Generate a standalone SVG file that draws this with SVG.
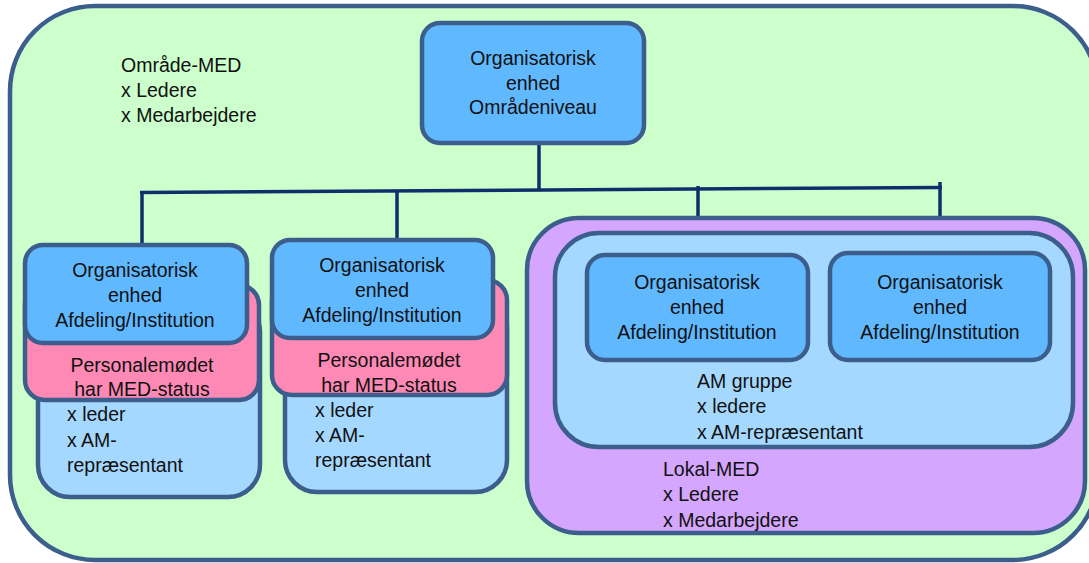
<svg xmlns="http://www.w3.org/2000/svg" width="1089" height="563" viewBox="0 0 1089 563">
<style>
  .box{stroke:#3c5e8c;stroke-width:4.5}
  .green{fill:#ccffcc}
  .blue{fill:#60b9ff}
  .pink{fill:#ff89b5}
  .light{fill:#a5d8ff}
  .purple{fill:#d4a6fd}
  text{font-family:"Liberation Sans",Arial,sans-serif;font-size:19.5px;fill:#111}
  .c{text-anchor:middle}
  .conn{stroke:#0f2f6b;stroke-width:3.5;fill:none;stroke-linecap:butt}
</style>
<rect id="omraade-bg" class="box green" x="10" y="6" width="1088" height="554" rx="85" ry="85"/>
<g id="omraade-label">
  <text x="121" y="72">Område-MED</text>
  <text x="121" y="97">x Ledere</text>
  <text x="121" y="122">x Medarbejdere</text>
</g>
<g id="connectors">
  <path class="conn" d="M539,144 V190"/>
  <path class="conn" d="M140,192.5 L942,187.5"/>
  <path class="conn" d="M142,192 V245"/>
  <path class="conn" d="M397,191 V240"/>
  <path class="conn" d="M698,186 V255"/>
  <path class="conn" d="M940,182 V253"/>
</g>
<g id="top-node">
  <rect class="box blue" x="422" y="23" width="222" height="120" rx="18"/>
  <text class="c" x="533" y="65">Organisatorisk</text>
  <text class="c" x="533" y="90">enhed</text>
  <text class="c" x="533" y="114">Områdeniveau</text>
</g>
<g id="node-left-1">
  <rect class="box light" x="38" y="300" width="222" height="197" rx="32"/>
  <rect class="box pink" x="25" y="285" width="234" height="115" rx="20"/>
  <rect class="box blue" x="25" y="245" width="222" height="98" rx="18"/>
  <text class="c" x="135" y="277">Organisatorisk</text>
  <text class="c" x="135" y="302">enhed</text>
  <text class="c" x="135" y="327">Afdeling/Institution</text>
  <text class="c" x="142" y="372">Personalemødet</text>
  <text class="c" x="142" y="396">har MED-status</text>
  <text x="67" y="421">x leder</text>
  <text x="67" y="447">x AM-</text>
  <text x="67" y="472">repræsentant</text>
</g>
<g id="node-left-2">
  <rect class="box light" x="285" y="295" width="222" height="197" rx="32"/>
  <rect class="box pink" x="272" y="280" width="235" height="115" rx="20"/>
  <rect class="box blue" x="272" y="240" width="221" height="98" rx="18"/>
  <text class="c" x="382" y="272">Organisatorisk</text>
  <text class="c" x="382" y="297">enhed</text>
  <text class="c" x="382" y="322">Afdeling/Institution</text>
  <text class="c" x="389" y="367">Personalemødet</text>
  <text class="c" x="389" y="392">har MED-status</text>
  <text x="315" y="417">x leder</text>
  <text x="315" y="442">x AM-</text>
  <text x="315" y="467">repræsentant</text>
</g>
<g id="lokal-med">
  <rect class="box purple" x="527" y="218" width="558" height="315" rx="52"/>
  <text x="663" y="476">Lokal-MED</text>
  <text x="663" y="501">x Ledere</text>
  <text x="663" y="527">x Medarbejdere</text>
</g>
<g id="am-gruppe">
  <rect class="box light" x="555" y="233" width="518" height="214" rx="44"/>
  <text x="697" y="388">AM gruppe</text>
  <text x="697" y="413">x ledere</text>
  <text x="697" y="439">x AM-repræsentant</text>
</g>
<g id="node-right-1">
  <rect class="box blue" x="587" y="255" width="221" height="105" rx="18"/>
  <text class="c" x="697" y="289">Organisatorisk</text>
  <text class="c" x="697" y="314">enhed</text>
  <text class="c" x="697" y="339">Afdeling/Institution</text>
</g>
<g id="node-right-2">
  <rect class="box blue" x="830" y="253" width="220" height="107" rx="18"/>
  <text class="c" x="940" y="289">Organisatorisk</text>
  <text class="c" x="940" y="314">enhed</text>
  <text class="c" x="940" y="339">Afdeling/Institution</text>
</g>
</svg>
